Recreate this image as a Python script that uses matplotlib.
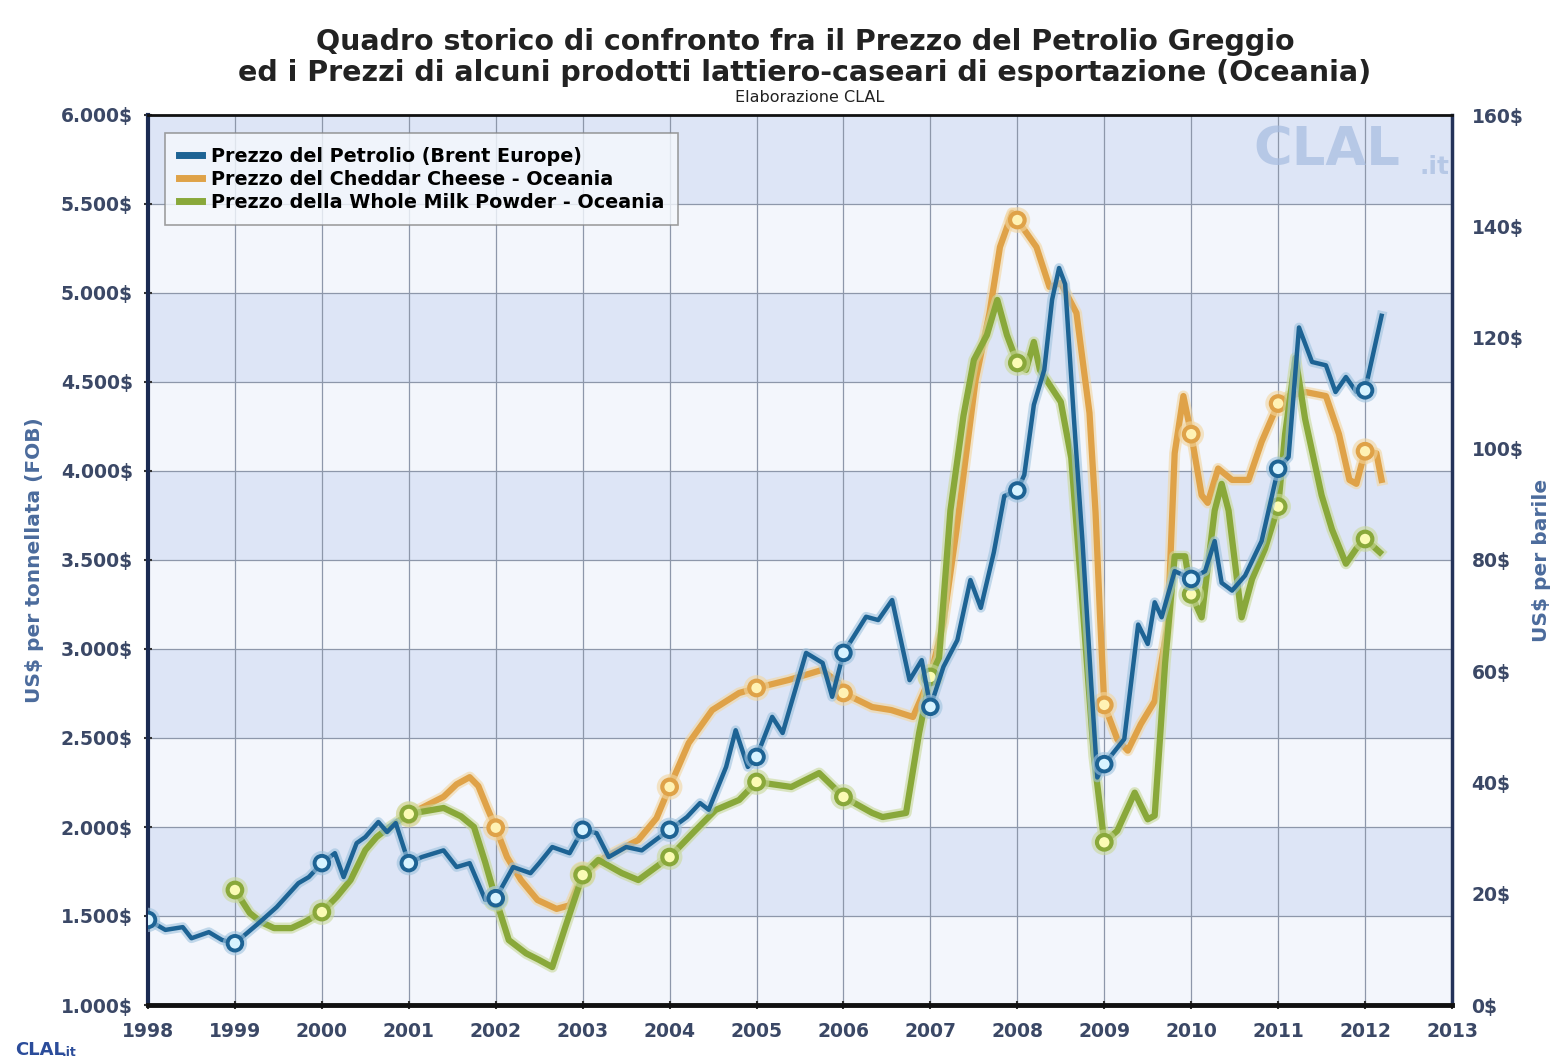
import matplotlib
matplotlib.use("Agg")
import matplotlib.pyplot as plt
import matplotlib.patheffects as pe
from matplotlib.lines import Line2D

# ---------------- data ----------------
oil_t = [1998.0, 1998.2, 1998.4, 1998.5, 1998.7, 1998.85, 1999.0, 1999.25, 1999.48, 1999.73,
         1999.85, 2000.0, 2000.15, 2000.25, 2000.4, 2000.5, 2000.65, 2000.75, 2000.85, 2001.0,
         2001.15, 2001.4, 2001.55, 2001.7, 2001.88, 2002.0, 2002.2, 2002.4, 2002.5, 2002.65,
         2002.85, 2003.0, 2003.16, 2003.3, 2003.5, 2003.68, 2003.85, 2004.0, 2004.2, 2004.35,
         2004.45, 2004.65, 2004.76, 2004.9, 2005.0, 2005.18, 2005.3, 2005.57, 2005.76, 2005.87,
         2006.0, 2006.26, 2006.4, 2006.56, 2006.76, 2006.9, 2007.0, 2007.15, 2007.31, 2007.46,
         2007.58, 2007.73, 2007.85, 2008.0, 2008.08, 2008.19, 2008.31, 2008.4, 2008.48, 2008.55,
         2008.65, 2008.75, 2008.85, 2008.92, 2009.0, 2009.23, 2009.39, 2009.5, 2009.58, 2009.66,
         2009.81, 2010.0, 2010.16, 2010.27, 2010.35, 2010.47, 2010.62, 2010.81, 2011.0, 2011.12,
         2011.24, 2011.39, 2011.55, 2011.66, 2011.78, 2011.9, 2012.0, 2012.19]
oil_v = [15.3, 13.5, 14.0, 12.0, 13.1, 11.7, 11.1, 14.4, 17.6, 21.9,
         23.0, 25.5, 27.3, 23.0, 29.1, 30.2, 32.9, 31.1, 32.7, 25.5,
         26.6, 27.8, 24.8, 25.5, 18.9, 19.2, 24.8, 23.7, 25.5, 28.4,
         27.3, 31.5, 30.9, 26.6, 28.4, 27.8, 29.8, 31.5, 33.8, 36.3,
         35.1, 42.8, 49.4, 42.8, 44.6, 51.8, 48.9, 63.3, 61.5, 55.4,
         63.3, 69.8, 69.2, 72.8, 58.4, 62.0, 53.6, 60.8, 65.6, 76.4,
         71.4, 81.4, 91.5, 92.5, 95.3, 107.9, 114.2, 126.8, 132.5, 129.6,
         105.6, 83.2, 57.6, 40.9, 43.3, 47.8, 68.4, 64.9, 72.4, 69.7,
         78.0, 76.6, 78.0, 83.4, 75.9, 74.5, 77.2, 83.4, 96.4, 98.5,
         121.8, 115.6, 115.0, 110.2, 112.9, 110.2, 110.5, 123.9]

ched_t = [2001.0, 2001.2, 2001.4, 2001.55, 2001.7, 2001.8, 2001.9, 2002.0, 2002.13, 2002.29,
          2002.48, 2002.7, 2002.85, 2003.0, 2003.26, 2003.64, 2003.85, 2004.0, 2004.22, 2004.49,
          2004.8, 2005.0, 2005.37, 2005.75, 2005.95, 2006.0, 2006.33, 2006.55, 2006.8, 2007.0,
          2007.15, 2007.3, 2007.52, 2007.68, 2007.8, 2007.94, 2008.0, 2008.22, 2008.37, 2008.5,
          2008.68, 2008.83, 2008.9, 2008.95, 2009.0, 2009.15, 2009.27, 2009.42, 2009.58, 2009.73,
          2009.81, 2009.91, 2010.0, 2010.12, 2010.19, 2010.31, 2010.47, 2010.66, 2010.81, 2011.0,
          2011.12, 2011.32, 2011.55, 2011.7, 2011.82, 2011.9, 2012.0, 2012.13, 2012.19]
ched_v = [2070, 2120, 2170, 2240, 2280, 2230, 2110, 1996, 1831, 1702,
          1590, 1540, 1560, 1735, 1831, 1927, 2050, 2225, 2472, 2657,
          2753, 2781, 2826, 2882, 2809, 2753, 2674, 2657, 2618, 2843,
          3150, 3669, 4511, 4888, 5258, 5450, 5410, 5258, 5034, 5056,
          4888, 4326, 3764, 3200, 2686, 2493, 2429, 2578, 2707, 3136,
          4100, 4421, 4207, 3864, 3821, 4014, 3950, 3950, 4164, 4379,
          4421, 4443, 4421, 4207, 3950, 3928, 4111, 4100, 3950]

wmp_t = [1999.0, 1999.17, 1999.3, 1999.45, 1999.65, 1999.8, 2000.0, 2000.17, 2000.33, 2000.5,
         2000.63, 2000.78, 2001.0, 2001.2, 2001.4, 2001.6, 2001.75, 2001.88, 2002.0, 2002.15,
         2002.35, 2002.5, 2002.65, 2002.8, 2003.0, 2003.18, 2003.45, 2003.64, 2004.0, 2004.3,
         2004.53, 2004.8, 2005.0, 2005.4, 2005.72, 2005.92, 2006.0, 2006.33, 2006.45, 2006.72,
         2006.87, 2007.0, 2007.1, 2007.23, 2007.38, 2007.5, 2007.65, 2007.77, 2007.88, 2008.0,
         2008.1, 2008.19, 2008.26, 2008.5, 2008.62, 2008.73, 2008.88, 2009.0, 2009.15, 2009.35,
         2009.5, 2009.58, 2009.7, 2009.81, 2009.93, 2010.0, 2010.12, 2010.27, 2010.35, 2010.43,
         2010.58, 2010.7, 2010.85, 2011.0, 2011.08, 2011.2, 2011.31, 2011.5, 2011.62, 2011.78,
         2011.9, 2012.0, 2012.17]
wmp_v = [1646, 1517, 1466, 1432, 1432, 1466, 1522, 1607, 1702, 1870,
         1944, 2000, 2073, 2090, 2107, 2060, 2000, 1800, 1596, 1365,
         1290, 1253, 1213, 1438, 1730, 1815, 1741, 1702, 1831, 1983,
         2096, 2152, 2253, 2225, 2303, 2208, 2169, 2079, 2056, 2079,
         2528, 2843, 2950, 3778, 4309, 4624, 4764, 4961, 4764, 4607,
         4568, 4725, 4567, 4388, 4073, 3382, 2399, 1914, 1979, 2193,
         2043, 2064, 2921, 3521, 3521, 3307, 3178, 3778, 3928, 3778,
         3178, 3393, 3564, 3800, 4207, 4636, 4293, 3864, 3671, 3479,
         3564, 3618, 3543]

years = list(range(1998, 2014))
left_ticks = [1000, 1500, 2000, 2500, 3000, 3500, 4000, 4500, 5000, 5500, 6000]
left_labels = ["1.000$", "1.500$", "2.000$", "2.500$", "3.000$", "3.500$",
               "4.000$", "4.500$", "5.000$", "5.500$", "6.000$"]
right_ticks = [0, 20, 40, 60, 80, 100, 120, 140, 160]
right_labels = ["0$", "20$", "40$", "60$", "80$", "100$", "120$", "140$", "160$"]

names = ["Prezzo del Petrolio (Brent Europe)",
         "Prezzo del Cheddar Cheese - Oceania",
         "Prezzo della Whole Milk Powder - Oceania"]

# ---------------- figure ----------------
fig = plt.figure(figsize=(15.52, 10.62), dpi=100)
fig.patch.set_facecolor("white")
ax = fig.add_axes([148/1552, 1-1005/1062, (1452-148)/1552, (1005-115)/1062])
ax.set_xlim(1998, 2013)
ax.set_ylim(1000, 6000)

band_dark = "#dde5f6"
band_light = "#f3f6fc"
for i in range(10):
    lo = 1000 + 500*i
    ax.axhspan(lo, lo+500, color=band_dark if i % 2 == 1 else band_light, zorder=0, lw=0)

ax.set_xticks(years)
ax.set_xticklabels([str(y) for y in years])
ax.set_yticks(left_ticks)
ax.set_yticklabels(left_labels)
ax.grid(True, color="#8d97aa", lw=0.9, zorder=1)
ax.set_axisbelow(True)

tick_col = "#3b4866"
ax.tick_params(axis="both", labelsize=13.5, colors="#333", labelcolor=tick_col, length=6, width=1.5, direction="inout")
ax.tick_params(axis="x", pad=9)
ax.tick_params(axis="y", pad=8)
for lab in ax.get_xticklabels() + ax.get_yticklabels():
    lab.set_fontweight("bold")

ax.spines["left"].set_linewidth(3)
ax.spines["left"].set_color("#1b2b52")
ax.spines["bottom"].set_linewidth(3.5)
ax.spines["bottom"].set_color("#111")
ax.spines["top"].set_linewidth(2)
ax.spines["top"].set_color("#111")
ax.spines["right"].set_linewidth(2.5)
ax.spines["right"].set_color("#24335a")

ax.set_ylabel("US$ per tonnellata (FOB)", fontsize=14.5, fontweight="bold", color="#4b6b9c", labelpad=12)

ax2 = ax.twinx()
ax2.set_ylim(0, 160)
ax2.set_yticks(right_ticks)
ax2.set_yticklabels(right_labels)
ax2.tick_params(axis="y", labelsize=13.5, labelcolor=tick_col, length=0, pad=14)
for lab in ax2.get_yticklabels():
    lab.set_fontweight("bold")
for s in ax2.spines.values():
    s.set_visible(False)
ax2.set_ylabel("US$ per barile", fontsize=14.5, fontweight="bold", color="#4b6b9c", labelpad=6)


def year_idx(t):
    return [i for i, v in enumerate(t) if abs(v - round(v)) < 1e-6]


c_ched = "#dfa248"
c_wmp = "#89a83a"
c_oil = "#1d6394"

ax.plot(wmp_t, wmp_v, color=c_wmp, lw=4.5, zorder=4, solid_joinstyle="round",
        marker="o", markevery=year_idx(wmp_t), ms=10.5, mfc="#fbfbb4", mec=c_wmp, mew=3,
        path_effects=[pe.Stroke(linewidth=8, foreground="#c9d99a", alpha=0.6), pe.Normal()])
ax.plot(ched_t, ched_v, color=c_ched, lw=4.5, zorder=3, solid_joinstyle="round",
        marker="o", markevery=year_idx(ched_t), ms=10.5, mfc="#fff2b4", mec=c_ched, mew=3,
        path_effects=[pe.Stroke(linewidth=8, foreground="#f2d6a0", alpha=0.6), pe.Normal()])
ax2.plot(oil_t, oil_v, color=c_oil, lw=3.2, zorder=5, solid_joinstyle="round",
         marker="o", markevery=year_idx(oil_t), ms=10.5, mfc="#d7f3ff", mec=c_oil, mew=2.8,
         path_effects=[pe.Stroke(linewidth=7, foreground="#9ec3de", alpha=0.6), pe.Normal()])

# legend
handles = [Line2D([0], [0], color=c, lw=5) for c in (c_oil, c_ched, c_wmp)]
leg = ax.legend(handles, names, loc="upper left", bbox_to_anchor=(0.006, 0.99),
                prop={"weight": "bold", "size": 13.8}, handlelength=1.2, handletextpad=0.5,
                labelspacing=0.2, borderpad=0.7, frameon=True, fancybox=False)
leg.get_frame().set_edgecolor("#888")
leg.get_frame().set_facecolor("#f5f8fd")
leg.get_frame().set_linewidth(1.2)
leg.set_zorder(10)

# watermark
ax.text(0.96, 0.99, "CLAL", transform=ax.transAxes, ha="right", va="top", fontsize=38,
        fontweight="bold", color="#a6bce0", alpha=0.7, zorder=2)
ax.text(0.998, 0.955, ".it", transform=ax.transAxes, ha="right", va="top", fontsize=18,
        fontweight="bold", color="#a6bce0", alpha=0.7, zorder=2)

# titles
fig.text(805/1552, 1-42/1062, "Quadro storico di confronto fra il Prezzo del Petrolio Greggio",
         ha="center", va="center", fontsize=20.5, fontweight="bold", color="#222")
fig.text(805/1552, 1-73/1062, "ed i Prezzi di alcuni prodotti lattiero-caseari di esportazione (Oceania)",
         ha="center", va="center", fontsize=20.5, fontweight="bold", color="#222")
fig.text(810/1552, 1-98/1062, "Elaborazione CLAL", ha="center", va="center", fontsize=11.5, color="#222")

# bottom-left logo
fig.text(15/1552, 1-1050/1062, "CLAL", ha="left", va="center", fontsize=13, fontweight="bold", color="#2b4c9a")
fig.text(62/1552, 1-1052/1062, ".it", ha="left", va="center", fontsize=9, fontweight="bold", color="#2b4c9a")

fig.savefig("out.png", dpi=100)
